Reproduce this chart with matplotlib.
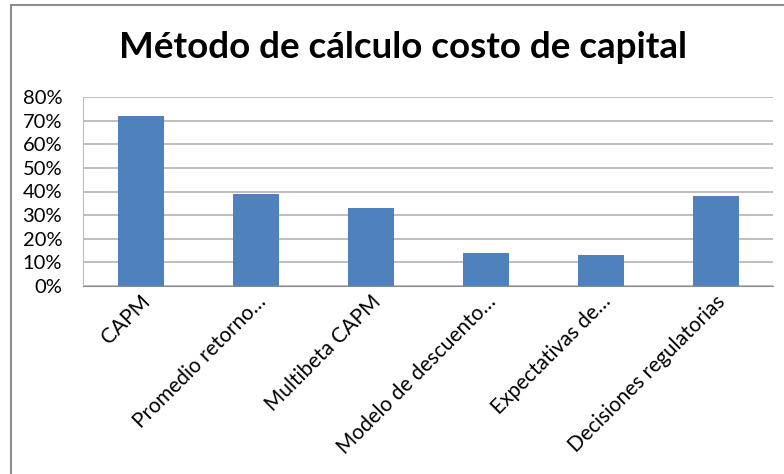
import matplotlib
matplotlib.use("Agg")
import matplotlib.pyplot as plt
from matplotlib.lines import Line2D
from matplotlib.ticker import FuncFormatter

categories = ["CAPM", "Promedio retorno…", "Multibeta CAPM", "Modelo de descuento…",
              "Expectativas de…", "Decisiones regulatorias"]
values = [72, 39, 33, 14, 13, 38]
title = "Método de cálculo costo de capital"

W, H = 784, 474
fig = plt.figure(figsize=(W/100, H/100), dpi=100)
plt.rcParams['font.family'] = ['Lato', 'DejaVu Sans']

ax = fig.add_axes([83/W, 1-286/H, (773-83)/W, (286-97)/H])
x = range(len(categories))
ax.bar(x, values, width=0.4, color="#4F81BD", zorder=3)
ax.set_xlim(-0.5, len(categories)-0.5)
ax.set_ylim(0, 80)
ax.set_yticks(range(0, 81, 10))
ax.yaxis.set_major_formatter(FuncFormatter(lambda v, p: f"{int(v)}%"))
ax.grid(axis="y", color="#B3B3B3", linewidth=1.2, zorder=0)
for s in ["top", "right"]:
    ax.spines[s].set_visible(False)
ax.spines["left"].set_color("#BDBDBD")
ax.spines["bottom"].set_color("#8C8C8C")
ax.tick_params(axis="y", length=0, labelsize=14.5, pad=15)
ax.tick_params(axis="x", length=0, labelsize=15, pad=4)
ax.set_xticks(list(x))
ax.set_xticklabels(categories, rotation=45, ha="right", va="top", rotation_mode="anchor")

fig.text(403/W, 1-47/H, title, ha="center", va="center", fontsize=26.5, fontweight="bold")

fig.add_artist(Line2D([11/W, 11/W], [0, 1-5/H], color="#8C8C8C", lw=1.5, transform=fig.transFigure))
fig.add_artist(Line2D([11/W, 1], [1-5/H, 1-5/H], color="#8C8C8C", lw=1.5, transform=fig.transFigure))

fig.savefig("out.png", dpi=100)
